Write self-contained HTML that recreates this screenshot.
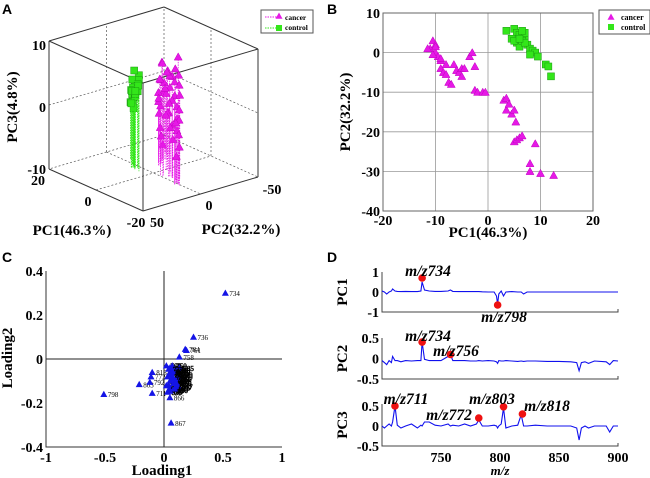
<!DOCTYPE html>
<html><head><meta charset="utf-8"><style>
body{margin:0;background:#fff}
svg{display:block;font-family:"Liberation Serif",serif;font-weight:bold}
.pl{font-family:"Liberation Sans",sans-serif;font-size:14px;font-weight:bold}
</style></head><body>
<svg id="s" width="650" height="478" viewBox="0 0 650 478">
<text class="pl" x="2" y="14">A</text>
<text class="pl" x="327" y="14">B</text>
<text class="pl" x="2" y="262">C</text>
<text class="pl" x="327" y="262">D</text>
<g id="ga"></g>
<g id="gb"></g>
<g id="gc"></g>
<g id="gd"></g>
</svg>
<script>
// ---- Panel B / A data ----
const cancerPC1=[-11,-10.5,-10,-10,-9.5,-9,-9,-8.5,-8,-7.5,-7,-6.5,-6,-5.5,-5,-5,-4.5,-3.5,-3,-2.5,-2.5,-2,-1,-0.5,3,3.5,3.5,4,4.5,5,5.3,5,5.5,6,6.5,9,8,8,10,12.5,-10,-11.5,-9,-8,-10.5];
const cancerPC2=[1,3,2,0,-1,-2,-4,-5,-5.5,-7.5,-8,-3,-4.5,-5,-4,-6,-4,-1,0,-3.5,-9.5,-10,-10,-10,-12,-11.5,-14.5,-13,-15.5,-14.5,-17.5,-22.5,-22,-21.5,-21,-23,-28,-30,-30.5,-31,1.5,1,-1.5,-3,-0.5];
const cancerPC3=[10,4,6,2,0,-2,5,1,-3,3,-1,6,-4,2,4,-2,0,-5,1,3,-3,5,-1,2,-4,0,6,-2,3,1,-6,4,-3,2,5,-1,3,-2,0,1,8,-4,-6,-1,7];
const controlPC1=[3.5,5,5.5,6,6.5,7,7.5,8,8.5,9,9.5,11,11.5,12,4.5,5.5,6,6.5,7,6.5,7,8,5,6];
const controlPC2=[5.5,6,5,4.5,4,3.5,2,1,0.5,0,-1,-3,-3.5,-6,3.5,2.5,1.5,3,5,5.5,2.5,-0.5,3,3.5];
const controlPC3=[5,4,3,2,1,0,-1,1,2,0,3,1,-1,0,4,2,3,1,0,2,5,1,3,2];
// ---- Panel C data ----
const loadLabels=["734","736","784","761","758","798","803","711","792","866","867","818","772","760","770","775","780","790","800","810","820","830","840","850","860","870","880","890","745","750","755","765","785","795","805","815","825","835","741","747","753","763","777","787","797","807","817","827","837","847"];
const loading1=[0.52,0.25,0.18,0.19,0.13,-0.51,-0.21,-0.1,-0.12,0.05,0.06,-0.1,-0.11,0.02,0.05,0.08,0.1,0.12,0.03,0.07,0.09,0.11,0.04,0.06,0.08,0.1,0.12,0.05,0.02,0.07,0.09,0.11,0.13,0.04,0.06,0.08,0.1,0.03,0.05,0.07,0.09,0.11,0.04,0.06,0.08,0.1,0.12,0.05,0.07,0.09];
const loading2=[0.30,0.10,0.045,0.04,0.01,-0.16,-0.115,-0.155,-0.105,-0.175,-0.29,-0.06,-0.08,-0.03,-0.04,-0.05,-0.06,-0.07,-0.08,-0.09,-0.1,-0.11,-0.12,-0.13,-0.14,-0.05,-0.08,-0.1,-0.12,-0.03,-0.06,-0.09,-0.04,-0.14,-0.07,-0.11,-0.13,-0.15,-0.06,-0.08,-0.1,-0.12,-0.045,-0.065,-0.085,-0.105,-0.125,-0.145,-0.055,-0.135];
// ---- Panel D data ----
const mz=[700,702,704,706,708,709,711,713,716,720,725,730,733,734,736,740,745,750,756,758,760,765,770,775,780,782,785,790,795,797,798,799,801,803,805,810,815,818,820,823,830,840,850,860,865,867,869,872,875,880,890,893,896,900];
const pc1=[0.05,0.0,-0.1,0.0,0.05,0.15,0.05,0.03,0.02,0.03,0.02,0.02,0.05,0.5,0.1,0.05,0.03,0.03,0.05,0.1,0.03,0.02,0.02,0.02,0.02,0.02,0.01,0.0,0.0,-0.2,-0.6,-0.1,0.05,-0.2,0.0,0.02,0.0,0.0,-0.1,0.0,0.0,0.0,0.0,0.0,0.0,0.0,0.0,0.0,0.0,0.0,0.0,0.0,0.0,0.0];
const pc2=[-0.05,-0.1,-0.15,-0.05,-0.1,0.05,-0.05,-0.05,-0.08,-0.05,-0.06,-0.05,-0.05,0.4,-0.02,-0.05,-0.05,-0.05,0.05,0.1,-0.05,-0.05,-0.05,-0.06,-0.06,-0.05,-0.06,-0.05,-0.06,-0.08,-0.12,-0.05,-0.06,-0.06,-0.05,-0.06,-0.07,-0.06,-0.07,-0.06,-0.06,-0.07,-0.07,-0.08,-0.1,-0.3,-0.1,-0.08,-0.12,-0.06,-0.08,-0.15,-0.05,-0.06];
const pc3=[0.0,-0.05,0.0,0.05,0.0,0.1,0.5,0.02,-0.05,0.0,0.05,-0.05,0.02,0.0,0.1,0.1,0.02,0.0,0.05,0.0,0.02,0.0,0.05,0.0,0.05,0.15,0.0,0.0,0.02,0.0,-0.05,0.0,0.05,0.45,-0.05,0.0,0.02,0.28,0.0,0.0,0.02,0.0,0.0,0.0,-0.05,-0.35,-0.05,0.0,-0.05,0.0,0.0,-0.15,0.0,0.0];
const markMz=[[734,798],[734,758],[711,782,803,819]];
const markVal=[[0.7,-0.65],[0.4,0.1],[0.5,0.2,0.48,0.3]];
const markLab=[["m/z734","m/z798"],["m/z734","m/z756"],["m/z711","m/z772","m/z803","m/z818"]];

const NS="http://www.w3.org/2000/svg";
function mk(p,tag,at,txt){const e=document.createElementNS(NS,tag);for(const k in at)e.setAttribute(k,at[k]);if(txt!==undefined)e.textContent=txt;p.appendChild(e);return e;}
function tri(x,y,r){return `${x},${y-r} ${x-r},${y+r*0.8} ${x+r},${y+r*0.8}`;}

// ===== Panel B =====
(function(){
const g=document.getElementById('gb');
const X0=383,X1=593,Y0=13,Y1=211;
const sx=v=>X0+(v+20)/40*(X1-X0), sy=v=>Y1-(v+40)/50*(Y1-Y0);
[-20,-10,0,10,20].forEach(v=>{const l=mk(g,'line',{x1:sx(v),x2:sx(v),y1:Y0,y2:Y1,stroke:'#999','stroke-width':0.8});

const t=mk(g,'text',{x:sx(v),y:Y1+14,'text-anchor':'middle','font-size':14},v);});
[-40,-30,-20,-10,0,10].forEach(v=>{const l=mk(g,'line',{x1:X0,x2:X1,y1:sy(v),y2:sy(v),stroke:'#999','stroke-width':0.8});

const t=mk(g,'text',{x:X0-3,y:sy(v)+5,'text-anchor':'end','font-size':14},v);});
const r=mk(g,'rect',{x:X0,y:Y0,width:X1-X0,height:Y1-Y0,fill:'none',stroke:'#666'});
let t=mk(g,'text',{x:488,y:237,'text-anchor':'middle','font-size':15},'PC1(46.3%)');
t=mk(g,'text',{x:0,y:0,'text-anchor':'middle','font-size':15,transform:'translate(350,112) rotate(-90)'},'PC2(32.2%)');
cancerPC1.forEach((v,i)=>{const p=mk(g,'polygon',{points:tri(sx(v),sy(cancerPC2[i]),4),fill:'#e619e6',stroke:'#c000c0','stroke-width':0.5});});
controlPC1.forEach((v,i)=>{const p=mk(g,'rect',{x:sx(v)-3.5,y:sy(controlPC2[i])-3.5,width:7,height:7,fill:'#33e61a',stroke:'#1a9a10','stroke-width':0.5});});
const lg=mk(g,'g',{});
mk(lg,'rect',{x:599,y:10,width:51,height:24,fill:'#fff',stroke:'#555'});
mk(lg,'polygon',{points:tri(611,17,3.5),fill:'#e619e6'});
mk(lg,'text',{x:621,y:20,'font-size':8},'cancer');
mk(lg,'rect',{x:608,y:24,width:6,height:6,fill:'#33e61a'});
mk(lg,'text',{x:621,y:30,'font-size':8},'control');
})();

// ===== Panel A =====
(function(){
const g=document.getElementById('ga');
const P=(a,b,c)=>[143-94*(a+20)/40+115*(50-b)/100, 211-42*(a+20)/40-34*(50-b)/100-128*(c+10)/20];
const L=(p,q,dash,name)=>{const l=mk(g,'line',{x1:p[0],y1:p[1],x2:q[0],y2:q[1],stroke:dash?'#555':'#333','stroke-width':dash?0.7:1,'stroke-dasharray':dash?'2,2':'none'});};
L(P(20,-50,-10),P(20,-50,10),1,'a-back-edge');
L(P(20,-50,-10),P(20,50,-10),1,'a-back-edge');
L(P(20,-50,-10),P(-20,-50,-10),1,'a-back-edge');
L(P(20,50,0),P(20,-50,0),1,'a-grid-line');L(P(20,-50,0),P(-20,-50,0),1,'a-grid-line');
L(P(0,50,-10),P(0,-50,-10),1,'a-grid-line');L(P(20,0,-10),P(-20,0,-10),1,'a-grid-line');
L(P(0,-50,-10),P(0,-50,10),1,'a-grid-line');L(P(20,0,-10),P(20,0,10),1,'a-grid-line');
const c=[[20,50],[20,-50],[-20,-50],[-20,50]];
for(let i=0;i<4;i++)L(P(...c[i],10),P(...c[(i+1)%4],10),0,'a-cube-edge');
L(P(20,50,-10),P(20,50,10),0,'a-cube-edge');L(P(-20,50,-10),P(-20,50,10),0,'a-cube-edge');L(P(-20,-50,-10),P(-20,-50,10),0,'a-cube-edge');
L(P(20,50,-10),P(-20,50,-10),0,'a-cube-edge');L(P(-20,50,-10),P(-20,-50,-10),0,'a-cube-edge');
controlPC1.forEach((v,i)=>{const t=P(v,controlPC2[i],controlPC3[i]),b=P(v,controlPC2[i],-10);
const l=mk(g,'line',{x1:t[0],y1:t[1],x2:b[0],y2:b[1],stroke:'#33e61a','stroke-width':0.8,'stroke-dasharray':'1.5,1'});
const r=mk(g,'rect',{x:t[0]-3.5,y:t[1]-3.5,width:7,height:7,fill:'#33e61a',stroke:'#1a9a10','stroke-width':0.5});});
cancerPC1.forEach((v,i)=>{const t=P(v,cancerPC2[i],cancerPC3[i]),b=P(v,cancerPC2[i],-10);
const l=mk(g,'line',{x1:t[0],y1:t[1],x2:b[0],y2:b[1],stroke:'#e619e6','stroke-width':0.8,'stroke-dasharray':'1.5,1'});
const p=mk(g,'polygon',{points:tri(t[0],t[1],4),fill:'#e619e6',stroke:'#c000c0','stroke-width':0.5});});
const T=(x,y,s,n,a)=>{const t=mk(g,'text',{x,y,'font-size':14,'text-anchor':a||'middle'},s);};
T(46,50,'10','a-pc3-tick','end');T(46,112,'0','a-pc3-tick','end');T(46,174,'-10','a-pc3-tick','end');
T(38,185,'20','a-pc1-tick');T(88,206,'0','a-pc1-tick');T(136,227,'-20','a-pc1-tick');
T(157,227,'50','a-pc2-tick');T(209,210,'0','a-pc2-tick');T(272,194,'-50','a-pc2-tick');
let t=mk(g,'text',{x:72,y:235,'font-size':15,'text-anchor':'middle'},'PC1(46.3%)');
t=mk(g,'text',{x:241,y:234,'font-size':15,'text-anchor':'middle'},'PC2(32.2%)');
t=mk(g,'text',{x:0,y:0,'font-size':15,'text-anchor':'middle',transform:'translate(17,107) rotate(-90)'},'PC3(4.8%)');
const lg=mk(g,'g',{});
mk(lg,'rect',{x:261,y:10,width:52,height:23,fill:'#fff',stroke:'#555'});
mk(lg,'line',{x1:265,x2:280,y1:17,y2:17,stroke:'#e619e6','stroke-dasharray':'1.5,1'});
mk(lg,'polygon',{points:tri(279,16,3.5),fill:'#e619e6'});
mk(lg,'text',{x:285,y:20,'font-size':7.5},'cancer');
mk(lg,'line',{x1:265,x2:280,y1:28,y2:28,stroke:'#33e61a','stroke-dasharray':'1.5,1'});
mk(lg,'rect',{x:276,y:25,width:6,height:6,fill:'#33e61a'});
mk(lg,'text',{x:285,y:30,'font-size':7.5},'control');
})();

// ===== Panel C =====
(function(){
const g=document.getElementById('gc');
const X0=46,X1=282,Y0=271,Y1=447;
const sx=v=>X0+(v+1)/2*(X1-X0), sy=v=>Y1-(v+0.4)/0.8*(Y1-Y0);
let l=mk(g,'path',{d:`M${X0},${Y0}V${Y1}H${X1}`,fill:'none',stroke:'#333'});
l=mk(g,'line',{x1:sx(0),x2:sx(0),y1:Y0,y2:Y1,stroke:'#222'});
l=mk(g,'line',{x1:X0,x2:X1,y1:sy(0),y2:sy(0),stroke:'#222'});
[-1,-0.5,0,0.5,1].forEach(v=>{const t=mk(g,'text',{x:sx(v),y:Y1+15,'text-anchor':'middle','font-size':14},v);});
[-0.4,-0.2,0,0.2,0.4].forEach(v=>{const t=mk(g,'text',{x:X0-3,y:sy(v)+5,'text-anchor':'end','font-size':14},v);});
let t=mk(g,'text',{x:162,y:475,'text-anchor':'middle','font-size':15},'Loading1');
t=mk(g,'text',{x:0,y:0,'text-anchor':'middle','font-size':15,transform:'translate(12,358) rotate(-90)'},'Loading2');
loading1.forEach((v,i)=>{const x=sx(v),y=sy(loading2[i]);
const p=mk(g,'polygon',{points:tri(x,y,3.5),fill:'#1414e6'});
const tt=mk(g,'text',{x:x+4,y:y+3,'font-size':7,'font-weight':'normal',fill:'#000',stroke:i>12?'#000':'none','stroke-width':0.5},loadLabels[i]);});
})();

// ===== Panel D =====
(function(){
const g=document.getElementById('gd');
const X0=382,X1=618;
const sx=v=>X0+(v-700)/200*(X1-X0);
const panels=[{top:272,bot:312,lo:-1,hi:1,ticks:[1,0,-1],name:'PC1',s:pc1},
{top:338,bot:379,lo:-0.5,hi:0.5,ticks:[0.5,0,-0.5],name:'PC2',s:pc2},
{top:404,bot:446,lo:-0.5,hi:0.55,ticks:[0.5,0,-0.5],name:'PC3',s:pc3}];
panels.forEach((p,k)=>{
const sy=v=>p.bot-(v-p.lo)/(p.hi-p.lo)*(p.bot-p.top);
let l=mk(g,'path',{d:`M${X0},${p.top}V${p.bot}H${X1}V${p.bot-3}`,fill:'none',stroke:'#444'});
p.ticks.forEach(v=>{const t=mk(g,'text',{x:X0-3,y:sy(v)+5,'text-anchor':'end','font-size':14},v);});
let t=mk(g,'text',{x:0,y:0,'text-anchor':'middle','font-size':15,transform:`translate(${347},${(p.top+p.bot)/2}) rotate(-90)`},p.name);
const d=mz.map((m,i)=>(i?'L':'M')+sx(m).toFixed(1)+','+sy(p.s[i]).toFixed(1)).join('');
const pa=mk(g,'path',{d,fill:'none',stroke:'#1010ee','stroke-width':1.1});
markMz[k].forEach((m,j)=>{const c=mk(g,'circle',{cx:sx(m),cy:sy(markVal[k][j]),r:3.8,fill:'#ee1111'});});
});
const lx=[428,504,428,456,406,449,492,547];
const ly=[276,322,341,356,404,420,404,411];
markLab.flat().forEach((s,i)=>{const t=mk(g,'text',{x:lx[i],y:ly[i],'font-size':15.5,'font-style':'italic','text-anchor':'middle'},s);
});
[750,800,850,900].forEach(v=>{const t=mk(g,'text',{x:sx(v),y:462,'text-anchor':'middle','font-size':14},v);});
let t=mk(g,'text',{x:500,y:475,'text-anchor':'middle','font-size':13,'font-style':'italic'},'m/z');
})();
</script>
</body></html>
